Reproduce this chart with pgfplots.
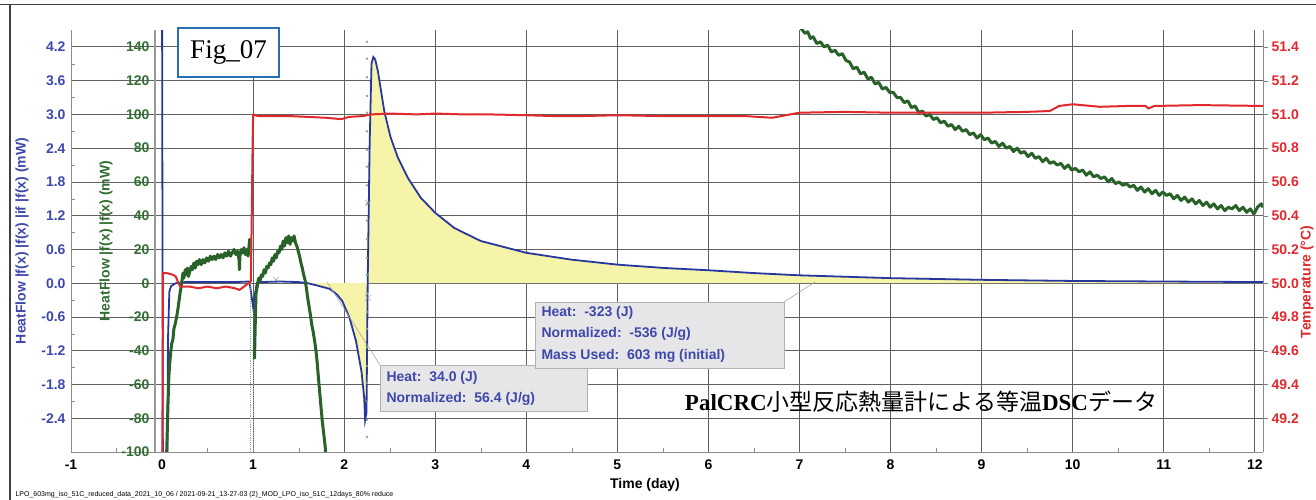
\documentclass[border=0pt]{standalone}
\usepackage{pgfplots}
\pgfplotsset{compat=1.18}
\usepackage{fontspec}
\setmainfont{Liberation Sans}
\newfontfamily\serif{Liberation Serif}
\newfontfamily\cjk{Noto Sans CJK JP}

\definecolor{hfblue}{RGB}{40,55,160}
\definecolor{tickblue}{RGB}{62,72,170}
\definecolor{hfgreen}{RGB}{40,98,40}
\definecolor{tgreen}{RGB}{50,110,50}
\definecolor{tred}{RGB}{225,40,45}
\definecolor{fillyel}{RGB}{246,244,168}
\definecolor{boxgray}{RGB}{230,230,232}
\definecolor{figblue}{RGB}{40,110,180}

\newcommand{\tfont}{\bfseries\fontsize{14}{14}\selectfont}

\begin{document}
\begin{tikzpicture}
\useasboundingbox (0pt,0pt) rectangle (1316pt,500pt);

% heat flow, blue scale, carries the grid
\begin{axis}[
  at={(71pt,48pt)}, anchor=south west, scale only axis,
  width=1192pt, height=422pt,
  xmin=-1, xmax=12.09, ymin=-3, ymax=4.5,
  axis lines*=left, axis line style={black!45, line width=0.8pt},
  xtick={-1,0,...,12},
  xticklabels={-1,0,1,2,3,4,5,6,7,8,9,10,11,12},
  ytick={-2.4,-1.8,-1.2,-0.6,0,0.6,1.2,1.8,2.4,3.0,3.6,4.2},
  yticklabels={-2.4,-1.8,-1.2,-0.6,0.0,0.6,1.2,1.8,2.4,3.0,3.6,4.2},
  minor x tick num=1, minor y tick num=1,
  grid=major, major grid style={black!62, line width=0.8pt},
  major tick length=0pt, minor tick length=4pt, tick align=inside,
  minor tick style={black!45},
  xticklabel style={font=\tfont, yshift=-4pt},
  yticklabel style={font=\tfont, text=tickblue, xshift=-2pt},
]
% integrated areas
\addplot[draw=none, fill=fillyel] coordinates {
  (1.6,0)(1.7,-0.04)(1.84,-0.1)(1.92,-0.2)(1.98,-0.32)(2.06,-0.62)(2.13,-1.03)
  (2.19,-1.57)(2.22,-2.04)(2.23,-2.43)(2.245,-2.3)(2.258,0)} \closedcycle;
\addplot[draw=none, fill=fillyel] coordinates {
  (2.258,0)(2.28,2.5)(2.30,3.9)(2.32,4.02)(2.34,3.98)(2.37,3.77)(2.44,3.06)
  (2.51,2.59)(2.59,2.23)(2.70,1.87)(2.84,1.52)(3.0,1.25)(3.21,0.98)(3.5,0.75)
  (4.0,0.54)(4.49,0.42)(5.0,0.33)(5.52,0.27)(6.0,0.23)(6.5,0.18)(7.0,0.14)
  (8.0,0.09)(9,0.06)(10,0.04)(11,0.03)(12.09,0.02)} \closedcycle;
% heat flow
\addplot[hfblue, line width=1.8pt] coordinates {
  (0,5)(0.01,-4)(0.055,-4)(0.065,-1)(0.08,-0.15)(0.1,-0.05)(0.15,0)(0.25,0.02)
  (0.5,0.02)(0.8,0.02)(0.96,0.03)(0.98,-0.2)(1.0,-0.42)(1.02,-0.2)(1.04,0.0)
  (1.07,0.02)(1.3,0.03)(1.5,0.02)(1.6,0.0)(1.7,-0.04)(1.84,-0.1)(1.92,-0.2)
  (1.98,-0.32)(2.06,-0.62)(2.13,-1.03)(2.19,-1.57)(2.22,-2.04)(2.23,-2.43)
  (2.245,-2.3)(2.258,0)(2.28,2.5)(2.30,3.9)(2.32,4.02)(2.34,3.98)(2.37,3.77)
  (2.44,3.06)(2.51,2.59)(2.59,2.23)(2.70,1.87)(2.84,1.52)(3.0,1.25)(3.21,0.98)
  (3.5,0.75)(4.0,0.54)(4.49,0.42)(5.0,0.33)(5.52,0.27)(6.0,0.23)(6.5,0.18)
  (7.0,0.14)(8.0,0.09)(9,0.06)(10,0.04)(11,0.03)(12.09,0.02)};
% integration limit markers
\addplot[only marks, mark=x, mark size=4pt, black!45] coordinates {
  (2.26,1.43)(2.26,-0.26)(1.25,0.06)};
\end{axis}

% heat flow, green scale
\begin{axis}[
  at={(155pt,48pt)}, anchor=south west, scale only axis,
  width=1108pt, height=422pt,
  xmin=-0.0775, xmax=12.09, ymin=-100, ymax=150,
  axis y line*=left, axis x line=none,
  axis line style={black!40, line width=1.4pt},
  ytick={-100,-80,-60,-40,-20,0,20,40,60,80,100,120,140},
  yticklabels={-100,-80,-60,-40,-20,0,20,40,60,80,100,120,140},
  major tick length=0pt,
  yticklabel style={font=\tfont, text=tgreen, xshift=-2pt},
]
\addplot[hfgreen, line width=3pt, line join=round] coordinates {
  (0.045,-110)(0.055,-92)(0.065,-72)(0.075,-55)(0.085,-47)(0.095,-41)(0.105,-36)
  (0.12,-33)(0.13,-27)(0.145,-24)(0.16,-20)(0.175,-15)(0.19,-9)(0.2,-5)(0.21,-2)
  (0.22,2)(0.23,6)(0.24,3)(0.255,8)(0.265,5)(0.28,9)(0.29,4)(0.305,7)(0.32,10)
  (0.335,8)(0.35,12)(0.365,9)(0.38,13)(0.395,11)(0.41,14)(0.43,11)(0.45,14)
  (0.47,12)(0.49,15)(0.51,13)(0.53,16)(0.55,14)(0.57,16)(0.59,14)(0.61,17)
  (0.63,15)(0.65,17)(0.67,15)(0.69,18)(0.71,16)(0.73,19)(0.75,16)(0.77,18)
  (0.79,20)(0.81,17)(0.83,19)(0.845,14)(0.85,8)(0.855,16)(0.87,20)(0.885,18)
  (0.9,21)(0.915,17)(0.93,20)(0.945,16)(0.955,22)(0.962,26)(0.968,20)};
\addplot[hfgreen, line width=3pt, line join=round] coordinates {
  (1.015,-45)(1.025,-20)(1.032,-6)(1.045,-2)(1.06,3)(1.075,1)(1.09,5)(1.105,4)
  (1.12,8)(1.135,6)(1.15,10)(1.165,9)(1.18,12)(1.195,11)(1.21,15)(1.225,13)
  (1.24,17)(1.255,15)(1.27,19)(1.285,18)(1.3,22)(1.315,20)(1.33,25)(1.345,22)
  (1.36,27)(1.375,24)(1.39,28)(1.405,23)(1.42,27)(1.435,25)(1.45,28)(1.465,24)
  (1.48,22)(1.495,19)(1.51,16)(1.525,12)(1.54,9)(1.555,5)(1.57,2)(1.585,-3)
  (1.6,-9)(1.615,-14)(1.63,-19)(1.645,-25)(1.66,-29)(1.675,-34)(1.69,-40)
  (1.70,-45)(1.73,-64)(1.76,-82)(1.79,-96)(1.81,-110)};
\addplot[hfgreen, line width=3pt, line join=round] coordinates {
  (6.99,153)(7.03,150)(7.06,148)(7.09,149)(7.12,145)(7.15,146)(7.19,142)(7.23,143)
  (7.27,140)(7.31,141)(7.35,137)(7.39,138)(7.43,135)(7.47,136)(7.51,132)(7.55,131)
  (7.59,127)(7.63,128)(7.67,124)(7.71,125)(7.75,121)(7.79,122)(7.83,118)(7.87,119)
  (7.91,115)(7.95,116)(7.99,113)(8.03,113)(8.07,110)(8.11,110)(8.15,107)(8.19,108)
  (8.23,104)(8.27,105)(8.31,101)(8.35,102)(8.39,99)(8.43,100)(8.47,97)(8.51,98)
  (8.55,95)(8.59,96)(8.63,93)(8.67,94)(8.71,91)(8.75,93)(8.79,90)(8.83,91)
  (8.87,88)(8.91,89)(8.95,86)(8.99,88)(9.03,85)(9.07,86)(9.11,83)(9.15,84)
  (9.19,81)(9.23,83)(9.27,80)(9.31,81)(9.35,78)(9.39,80)(9.43,77)(9.47,78)
  (9.51,75)(9.55,77)(9.59,74)(9.63,75)(9.67,72)(9.71,74)(9.75,71)(9.79,72)
  (9.83,70)(9.87,71)(9.91,68)(9.95,70)(9.99,67)(10.03,68)(10.07,66)(10.11,67)
  (10.15,64)(10.19,66)(10.23,63)(10.27,64)(10.31,62)(10.35,63)(10.39,60)(10.43,62)
  (10.47,59)(10.51,60)(10.55,58)(10.59,59)(10.63,57)(10.67,58)(10.71,55)(10.75,57)
  (10.79,54)(10.83,56)(10.87,53)(10.91,55)(10.95,52)(10.99,54)(11.03,52)(11.07,53)
  (11.11,50)(11.15,52)(11.19,49)(11.23,51)(11.27,48)(11.31,50)(11.35,47)(11.39,49)
  (11.43,46)(11.47,48)(11.51,45)(11.55,47)(11.59,44)(11.63,46)(11.67,43)(11.71,45)
  (11.75,44)(11.79,46)(11.83,43)(11.87,45)(11.91,42)(11.95,44)(11.99,41)(12.03,45)
  (12.07,47)(12.09,45)};
% sparse samples during the fast steps
\addplot[tgreen!55, densely dotted, line width=1.2pt] coordinates {(0.97,22)(0.97,-110)};
\addplot[tgreen!55, densely dotted, line width=1.2pt] coordinates {(1.005,-110)(1.005,-45)};
\addplot[only marks, mark=*, mark size=1pt, tgreen!60] coordinates {
  (2.25,143)(2.25,133)(2.25,122)(2.25,111)(2.25,101)(2.25,90)(2.25,79)(2.25,69)
  (2.25,58)(2.25,47)(2.25,37)(2.25,26)(2.25,15)(2.25,5)(2.25,-6)(2.25,-17)
  (2.25,-27)(2.25,-38)(2.25,-49)(2.25,-59)(2.25,-70)(2.25,-81)(2.25,-91)};
\end{axis}

% temperature, right scale
\begin{axis}[
  at={(71pt,48pt)}, anchor=south west, scale only axis,
  width=1192pt, height=422pt,
  xmin=-1, xmax=12.09, ymin=49, ymax=51.5,
  axis y line*=right, axis x line=none,
  axis line style={black!45, line width=0.8pt},
  ytick={49.2,49.4,49.6,49.8,50,50.2,50.4,50.6,50.8,51,51.2,51.4},
  yticklabels={49.2,49.4,49.6,49.8,50.0,50.2,50.4,50.6,50.8,51.0,51.2,51.4},
  major tick length=5pt, tick align=outside, major tick style={black!50},
  yticklabel style={font=\tfont, text=tred},
]
\addplot[tred, line width=2pt, line join=round] coordinates {
  (0.0,48.5)(0.01,50.06)(0.05,50.06)(0.12,50.05)(0.15,50.04)(0.18,50.0)(0.2,49.98)
  (0.3,49.98)(0.4,49.97)(0.5,49.98)(0.6,49.97)(0.7,49.98)(0.8,49.97)(0.85,49.96)
  (0.9,49.98)(0.95,50.0)(0.975,50.01)(0.985,50.4)(0.995,50.85)(1.0,51.0)
  (1.05,50.99)(1.2,50.99)(1.4,50.99)(1.6,50.985)(1.8,50.98)(1.9,50.975)
  (1.97,50.972)(2.05,50.985)(2.2,50.99)(2.3,51.0)(2.5,51.005)(2.8,51.0)
  (3.0,51.005)(3.3,51.0)(3.6,51.0)(4.0,50.995)(4.3,50.99)(4.6,50.99)(5.0,50.995)
  (5.5,50.99)(6.0,50.99)(6.4,50.99)(6.7,50.98)(6.9,51.0)(7.0,51.01)(7.5,51.015)
  (8.0,51.01)(8.5,51.01)(9.0,51.01)(9.5,51.015)(9.75,51.02)(9.85,51.05)
  (10.0,51.06)(10.3,51.045)(10.6,51.05)(10.8,51.05)(10.83,51.035)(10.9,51.05)
  (11.4,51.055)(12.09,51.05)};
\end{axis}

% frame of the page
\draw[black!75, line width=2.5pt] (10pt,0pt) -- (10pt,496pt);
\draw[black!75, line width=1pt] (0pt,495pt) -- (1316pt,495pt);

% axis titles
\node[rotate=90, text=tickblue, font=\tfont] at (22pt,259pt) {HeatFlow |f(x) |f(x) |if |f(x) (mW)};
\node[rotate=90, text=tgreen, font=\tfont] at (106pt,259pt) {HeatFlow |f(x) |f(x) (mW)};
\node[rotate=90, text=tred, font=\tfont] at (1307pt,218pt) {Temperature (°C)};
\node[font=\tfont] at (645pt,15pt) {Time (day)};

% figure tag
\node[draw=figblue, line width=2pt, fill=white, minimum width=101pt, minimum height=49pt,
  font=\serif\fontsize{27}{27}\selectfont] at (228.5pt,447.5pt) {Fig\_07};

% integration result boxes
\draw[black!35, line width=0.6pt] (380pt,135pt) -- (327pt,218pt);
\draw[black!35, line width=0.6pt] (784pt,198pt) -- (815pt,218pt);
\draw[black!30, fill=boxgray] (380pt,89pt) rectangle (587pt,135pt);
\node[anchor=west, text=tickblue, font=\tfont] at (383pt,122pt) {Heat:\ \ 34.0 (J)};
\node[anchor=west, text=tickblue, font=\tfont] at (383pt,101pt) {Normalized:\ \ 56.4 (J/g)};
\draw[black!30, fill=boxgray] (535pt,132pt) rectangle (784pt,198pt);
\node[anchor=west, text=tickblue, font=\tfont] at (538pt,187pt) {Heat:\ \ -323 (J)};
\node[anchor=west, text=tickblue, font=\tfont] at (538pt,166pt) {Normalized:\ \ -536 (J/g)};
\node[anchor=west, text=tickblue, font=\tfont] at (538pt,144pt) {Mass Used:\ \ 603 mg (initial)};

% caption inside the plot
\node[font=\fontsize{23}{23}\selectfont] at (921pt,98pt)
  {{\serif\bfseries PalCRC}{\cjk 小型反応熱量計による等温}{\serif\bfseries DSC}{\cjk データ}};

% source file name
\node[anchor=west, font=\fontsize{7}{7}\selectfont] at (12pt,5pt)
  {LPO\_603mg\_iso\_51C\_reduced\_data\_2021\_10\_06 / 2021-09-21\_13-27-03 (2)\_MOD\_LPO\_iso\_51C\_12days\_80\% reduce};
\end{tikzpicture}
\end{document}
